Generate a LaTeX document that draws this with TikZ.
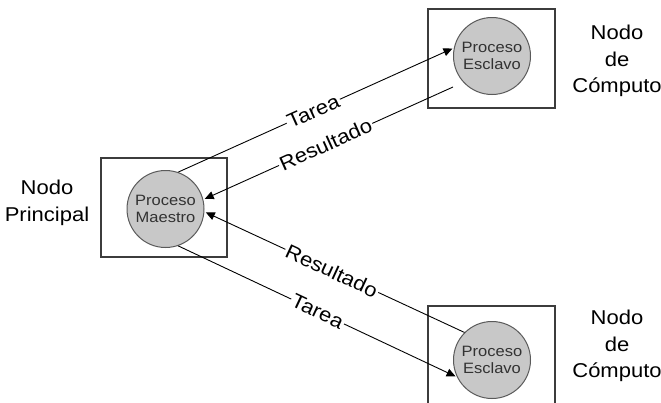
\documentclass[tikz,border=0pt]{standalone}
\usepackage{fontspec}
\setmainfont[FakeStretch=1.1]{Liberation Sans}
\usetikzlibrary{arrows.meta}
\definecolor{procfill}{RGB}{200,200,200}
\definecolor{procline}{RGB}{90,90,90}
\definecolor{boxline}{RGB}{60,60,60}
\definecolor{proctext}{RGB}{50,50,50}
\tikzset{
  nodebox/.style={draw=boxline, line width=1.2pt},
  proc/.style={circle, draw=procline, line width=1pt, fill=procfill, minimum size=77pt, inner sep=0pt,
    align=center, text=proctext, font=\fontsize{15}{16.5}\selectfont},
  caption/.style={align=center, font=\fontsize{20}{26.5}\selectfont},
  conn/.style={draw=black, line width=0.9pt, -{Triangle[length=9pt,width=8pt]}, shorten >=1.5pt},
  lbl/.style={sloped, fill=white, inner sep=1.5pt, font=\fontsize{20}{22}\selectfont}
}
\begin{document}
\begin{tikzpicture}[x=1pt,y=-1pt]
\useasboundingbox (0,0) rectangle (661,402);
% boxes
\draw[nodebox] (101,158) rectangle (227,257);
\draw[nodebox] (428,9) rectangle (555,108);
\draw[nodebox] (428,306) rectangle (555,412);
% processes
\node[proc] (m) at (165.5,209) {Proceso\\Maestro};
\node[proc] (s1) at (492,56) {Proceso\\Esclavo};
\node[proc] (s2) at (492,360) {Proceso\\Esclavo};
% captions
\node[caption] (np) at (47,203) {Nodo\\Principal};
\node[caption] (nc1) at (617,61) {Nodo\\de\\Cómputo};
\node[caption] (nc2) at (617,346) {Nodo\\de\\Cómputo};
% connectors
\coordinate (r1s) at (453,87);
\draw[conn] (m.71) -- node[lbl, pos=0.49] {Tarea} (s1.168);
\draw[conn] (r1s) -- node[lbl, pos=0.51] {Resultado} (m.14);
\draw[conn] (s2.135) -- node[lbl, pos=0.51] {Resultado} (m.-4);
\draw[conn] (m.-71) -- node[lbl, pos=0.5] {Tarea} (s2.206);
\end{tikzpicture}
\end{document}
